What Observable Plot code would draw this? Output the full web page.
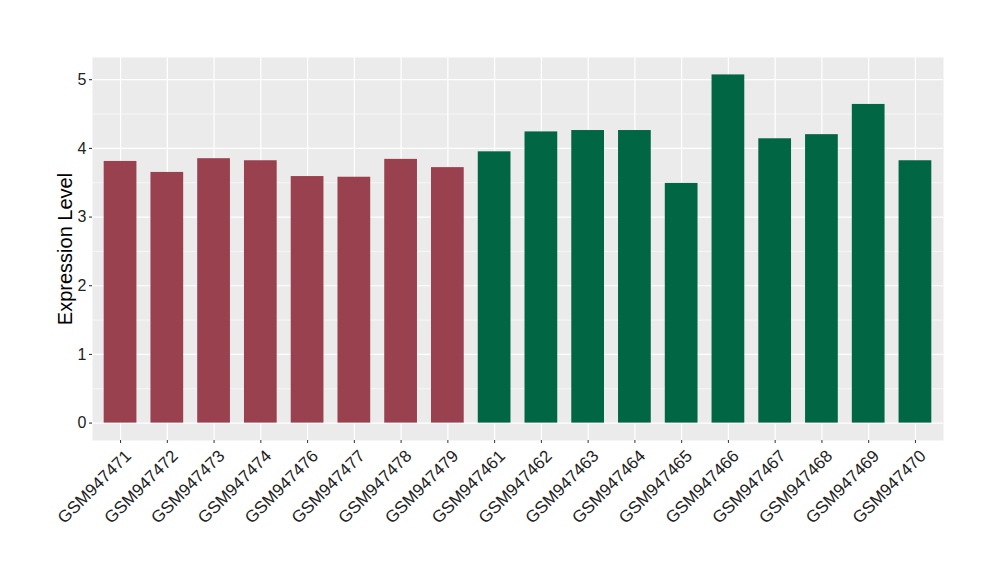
<!DOCTYPE html>
<html><head>
<meta charset="utf-8">
<script src="https://cdn.jsdelivr.net/npm/d3@7"></script>
<script src="https://cdn.jsdelivr.net/npm/@observablehq/plot@0.6"></script>
<style>body{margin:0;background:#fff}</style>
</head><body><div id="chart"></div>
<script>
const samples = ["GSM947471","GSM947472","GSM947473","GSM947474","GSM947476","GSM947477","GSM947478","GSM947479","GSM947461","GSM947462","GSM947463","GSM947464","GSM947465","GSM947466","GSM947467","GSM947468","GSM947469","GSM947470"];
const values = [3.81,3.65,3.85,3.82,3.59,3.58,3.84,3.72,3.95,4.24,4.26,4.26,3.49,5.07,4.14,4.20,4.64,3.82];
const groups = ["A","A","A","A","A","A","A","A","B","B","B","B","B","B","B","B","B","B"];
const groupColors = ["#9A4150","#006644"];
const yTicks = [0,1,2,3,4,5];
const yMinor = [0.5,1.5,2.5,3.5,4.5];
const data = samples.map((s,i)=>({sample:s, value:values[i], group:groups[i]}));
const chart = Plot.plot({
  width:1000, height:580, marginLeft:92, marginRight:57, marginTop:57, marginBottom:140,
  style:{fontFamily:"'Liberation Sans', Arial, sans-serif", background:"#fff"},
  x:{domain:samples, paddingInner:0.3, paddingOuter:0.25, round:false, label:null},
  y:{domain:[-0.2535,5.3235], label:null},
  color:{domain:["A","B"], range:groupColors},
  marks:[
    Plot.frame({fill:"#EBEBEB", stroke:null}),
    Plot.ruleY(yMinor,{stroke:"#fff", strokeWidth:0.6}),
    Plot.ruleY(yTicks,{stroke:"#fff", strokeWidth:1.2}),
    Plot.ruleX(samples,{x:d=>d, stroke:"#fff", strokeWidth:1.2}),
    Plot.barY(data,{x:"sample", y:"value", fill:"group"}),
    Plot.axisY({ticks:yTicks, tickFormat:d=>String(d), tickSize:3, tickPadding:3, fontSize:16, color:"#222", label:null}),
    Plot.axisX({tickSize:3, tickFormat:()=>"", color:"#333", label:null}),
    Plot.text(samples, {x:d=>d, text:d=>d, frameAnchor:"bottom", dx:3, dy:8, rotate:-45, textAnchor:"end", lineAnchor:"top", fontSize:17, fill:"#222"}),
    Plot.text(["Expression Level"], {frameAnchor:"left", rotate:-90, dx:-27, fontSize:20, fill:"#000", textAnchor:"middle"})
  ]
});
document.getElementById("chart").appendChild(chart);
</script>
</body></html>
